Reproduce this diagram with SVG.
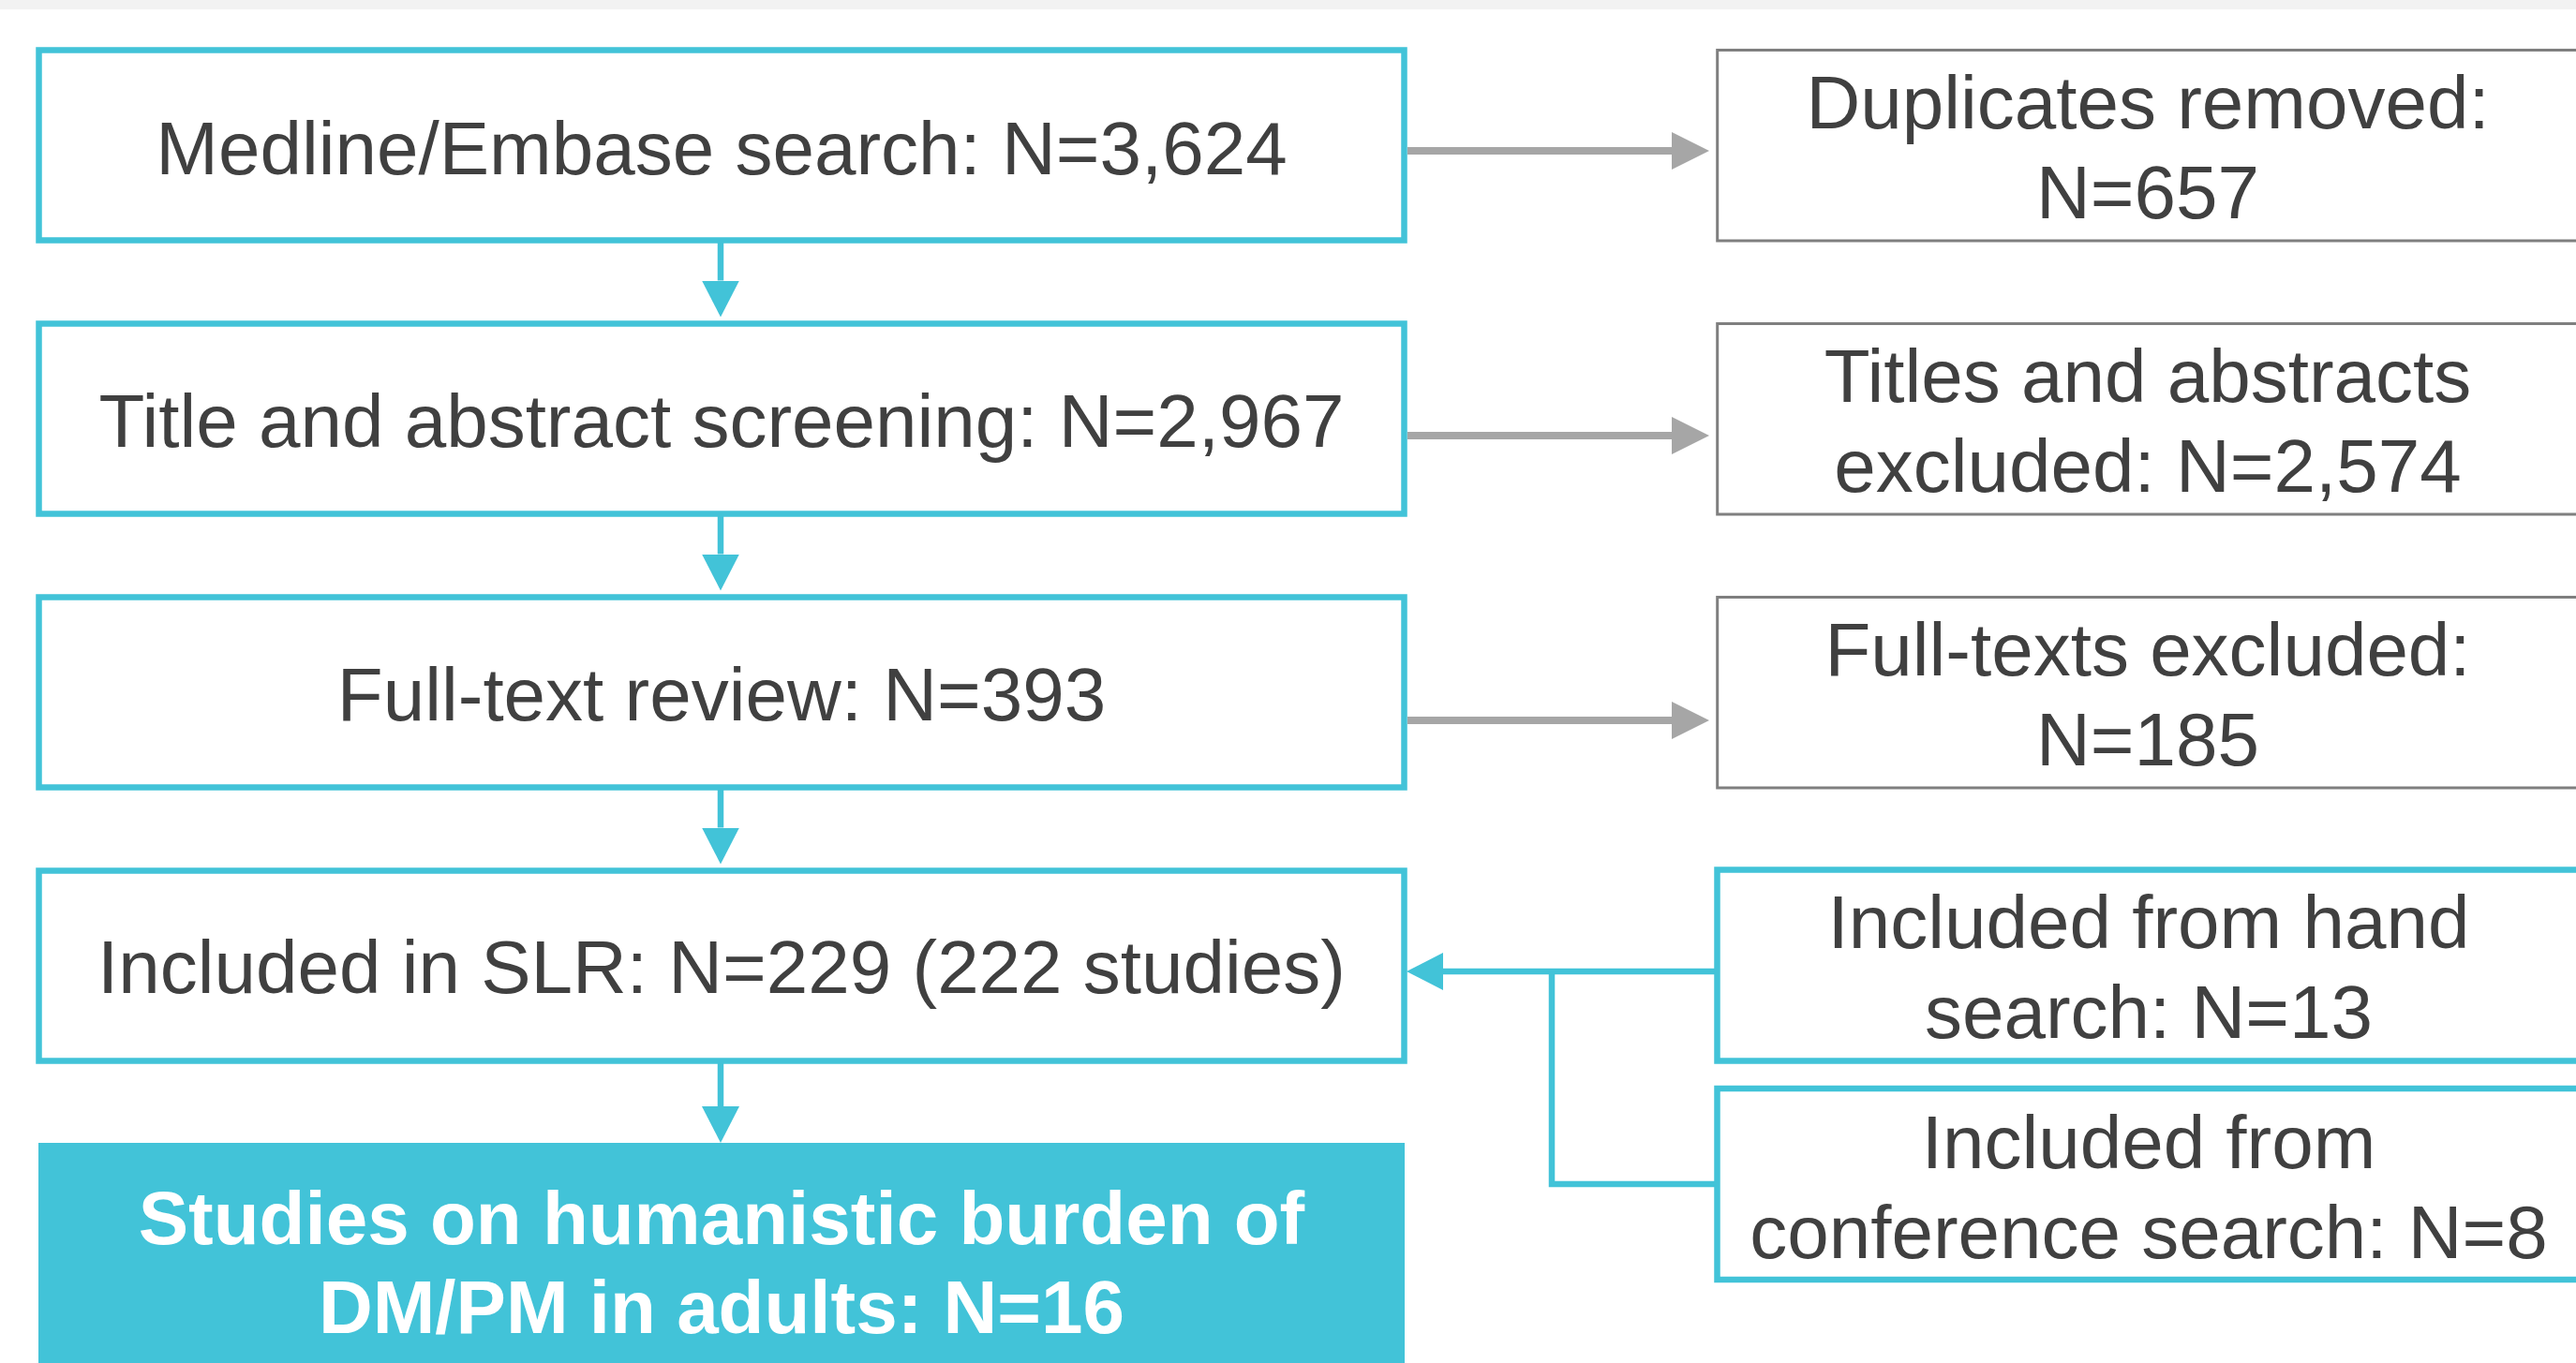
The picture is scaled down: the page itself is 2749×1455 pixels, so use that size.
<svg xmlns="http://www.w3.org/2000/svg" width="2749" height="1455" viewBox="0 0 2749 1455">
  <style>
    .box { fill: #ffffff; stroke: #42c3d8; stroke-width: 6.5; }
    .gbox { fill: #ffffff; stroke: #7f7f7f; stroke-width: 3; }
    .fbox { fill: #42c3d8; stroke: none; }
    .t { font-family: "Liberation Sans", Arial, sans-serif; font-size: 80px; fill: #404040; text-anchor: middle; }
    .tb { font-family: "Liberation Sans", Arial, sans-serif; font-size: 80px; font-weight: bold; fill: #ffffff; text-anchor: middle; }
    .cyan { stroke: #42c3d8; stroke-width: 6.5; fill: none; }
    .gray { stroke: #a6a6a6; stroke-width: 8; fill: none; }
  </style>
  <defs>
    <marker id="ac" markerUnits="userSpaceOnUse" markerWidth="39" markerHeight="40" refX="0" refY="20" orient="auto" viewBox="0 0 39 40">
      <path d="M0,0 L39,20 L0,40 Z" fill="#42c3d8"/>
    </marker>
    <marker id="ag" markerUnits="userSpaceOnUse" markerWidth="40" markerHeight="40" refX="0" refY="20" orient="auto" viewBox="0 0 40 40">
      <path d="M0,0 L40,20 L0,40 Z" fill="#a6a6a6"/>
    </marker>
  </defs>

  <rect x="0" y="0" width="2749" height="10" fill="#f2f2f2"/>

  <g id="connectors">
    <line class="cyan" x1="769" y1="259" x2="769" y2="299.5" marker-end="url(#ac)"/>
    <line class="cyan" x1="769" y1="551" x2="769" y2="591.5" marker-end="url(#ac)"/>
    <line class="cyan" x1="769" y1="843" x2="769" y2="883.5" marker-end="url(#ac)"/>
    <line class="cyan" x1="769" y1="1135" x2="769" y2="1181" marker-end="url(#ac)"/>
    <line class="gray" x1="1502" y1="161" x2="1784" y2="161" marker-end="url(#ag)"/>
    <line class="gray" x1="1502" y1="465" x2="1784" y2="465" marker-end="url(#ag)"/>
    <line class="gray" x1="1502" y1="769" x2="1784" y2="769" marker-end="url(#ag)"/>
    <line class="cyan" x1="1832" y1="1037" x2="1540" y2="1037" marker-end="url(#ac)"/>
    <path class="cyan" d="M1656,1037 V1264 H1832"/>
  </g>

  <g id="n-medline">
    <rect class="box" x="41.5" y="53.5" width="1457" height="203"/>
    <text class="t" x="770" y="186">Medline/Embase search: N=3,624</text>
  </g>
  <g id="n-screening">
    <rect class="box" x="41.5" y="345.5" width="1457" height="203"/>
    <text class="t" x="770" y="477">Title and abstract screening: N=2,967</text>
  </g>
  <g id="n-fulltext">
    <rect class="box" x="41.5" y="637.5" width="1457" height="203"/>
    <text class="t" x="770" y="769">Full-text review: N=393</text>
  </g>
  <g id="n-included">
    <rect class="box" x="41.5" y="929.5" width="1457" height="203"/>
    <text class="t" x="770" y="1060">Included in SLR: N=229 (222 studies)</text>
  </g>
  <g id="n-humanistic">
    <rect class="fbox" x="41" y="1220" width="1458" height="240"/>
    <text class="tb" x="770" y="1327.5">Studies on humanistic burden of</text>
    <text class="tb" x="770" y="1423">DM/PM in adults: N=16</text>
  </g>

  <g id="n-duplicates">
    <rect class="gbox" x="1832.7" y="53.5" width="920" height="203.5"/>
    <text class="t" x="2292" y="137">Duplicates removed:</text>
    <text class="t" x="2292" y="233">N=657</text>
  </g>
  <g id="n-titles-excluded">
    <rect class="gbox" x="1832.7" y="345.5" width="920" height="203.5"/>
    <text class="t" x="2292" y="429">Titles and abstracts</text>
    <text class="t" x="2292" y="525">excluded: N=2,574</text>
  </g>
  <g id="n-fulltexts-excluded">
    <rect class="gbox" x="1832.7" y="637.5" width="920" height="203.5"/>
    <text class="t" x="2292" y="721">Full-texts excluded:</text>
    <text class="t" x="2292" y="817">N=185</text>
  </g>
  <g id="n-hand">
    <rect class="box" x="1832.5" y="928.5" width="920" height="204"/>
    <text class="t" x="2293" y="1012">Included from hand</text>
    <text class="t" x="2293" y="1108">search: N=13</text>
  </g>
  <g id="n-conference">
    <rect class="box" x="1832.5" y="1162" width="920" height="204"/>
    <text class="t" x="2293" y="1247">Included from</text>
    <text class="t" x="2293" y="1342.5">conference search: N=8</text>
  </g>
</svg>
